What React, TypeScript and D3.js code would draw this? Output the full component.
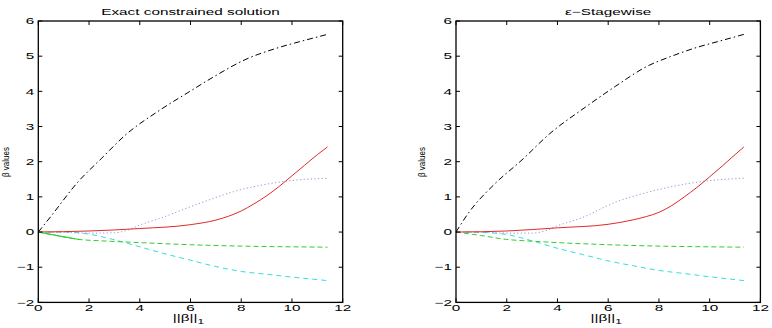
import React from 'react';
import * as d3 from 'd3';

// coefficient paths: [||beta||_1, beta]
const exactBlack = [[0, 0], [0.5, 0.45], [1.57, 1.43], [2.5, 2.1], [3.42, 2.75], [4.8, 3.47], [6, 4.01], [7, 4.45], [8.15, 4.9], [9.5, 5.25], [10.5, 5.45], [11.4, 5.62]];
const exactRed = [[0, 0], [2, 0.03], [4, 0.1], [6, 0.21], [7, 0.34], [7.5, 0.45], [8, 0.6], [8.5, 0.8], [9, 1.03], [9.5, 1.3], [10, 1.6], [10.5, 1.9], [11, 2.2], [11.4, 2.42]];
const exactBlue = [[0, 0], [1, -0.01], [2, -0.03], [3, -0.02], [3.5, 0.05], [4, 0.2], [4.8, 0.39], [6, 0.72], [7, 0.98], [7.7, 1.15], [8.7, 1.32], [9.8, 1.45], [11.4, 1.53]];
const exactGreen = [[0, 0], [0.8, -0.11], [1.6, -0.21], [2.5, -0.25], [4, -0.3], [6, -0.36], [8, -0.4], [10, -0.42], [11.4, -0.43]];
const exactCyan = [[0, 0], [1, 0], [1.6, -0.02], [2, -0.06], [3, -0.22], [4, -0.42], [5, -0.62], [6, -0.8], [7, -0.98], [8, -1.12], [9, -1.2], [10, -1.28], [11.4, -1.38]];

const stageBlack = [[0, 0], [0.5, 0.55], [1.5, 1.35], [2.6, 2.05], [3.7, 2.8], [5.1, 3.55], [6.3, 4.15], [7.5, 4.7], [8.5, 5.0], [9.5, 5.25], [10.5, 5.45], [11.35, 5.62]];
const stageRed = [[0, 0], [2, 0.03], [4, 0.12], [6, 0.22], [7, 0.35], [7.5, 0.44], [8, 0.56], [8.5, 0.75], [9, 1.0], [9.5, 1.27], [10, 1.57], [10.5, 1.88], [11, 2.2], [11.35, 2.42]];
const stageBlue = [[0, 0], [1, -0.01], [2, -0.03], [3, -0.03], [3.5, 0.03], [4, 0.18], [4.9, 0.39], [6.4, 0.88], [7.5, 1.12], [8.7, 1.32], [9.85, 1.45], [11.35, 1.53]];
const stageGreen = [[0, 0], [1, -0.1], [2, -0.21], [3, -0.26], [4, -0.3], [6, -0.36], [8, -0.4], [10, -0.42], [11.35, -0.43]];
const stageCyan = [[0, 0], [1, -0.01], [2, -0.07], [3, -0.25], [3.94, -0.45], [5, -0.64], [6, -0.82], [7, -0.96], [7.9, -1.08], [9, -1.18], [10, -1.27], [11.35, -1.38]];

const xTicks = [0, 2, 4, 6, 8, 10, 12];
const yTicks = [-2, -1, 0, 1, 2, 3, 4, 5, 6];

const FONT = '"Liberation Sans", Arial, sans-serif';
const SX = 1.7; // the figure's text is stretched sideways

const T = ({ x, y, anchor = 'middle', size = 9, sx = SX, rot = false, children }) => (
  <text
    transform={`translate(${x},${y}) scale(${sx},1)${rot ? ' rotate(-90)' : ''}`}
    textAnchor={anchor}
    fontSize={size}
    fontFamily={FONT}
    fill="#000"
  >
    {children}
  </text>
);

const Panel = ({ left, title, series, ylabX, soloGreen }) => {
  const x = d3.scaleLinear().domain([0, 12]).range([left, left + 304.4]);
  const y = d3.scaleLinear().domain([-2, 6]).range([302.4, 21]);
  const line = d3.line().x(d => x(d[0])).y(d => y(d[1])).curve(d3.curveMonotoneX);
  const [x0, x1] = x.range();
  const [y0, y1] = y.range();
  const tk = 4;

  return (
    <g>
      {series.map((s, i) => (
        <path key={i} d={line(s.data)} fill="none" stroke={s.color} strokeWidth={1} strokeDasharray={s.dash} />
      ))}
      {soloGreen && (
        <path d={line(soloGreen)} fill="none" stroke="#33cc33" strokeWidth={1.2} />
      )}
      <rect x={x0} y={y1} width={x1 - x0} height={y0 - y1} fill="none" stroke="#000" strokeWidth={1.3} />
      {xTicks.map(t => (
        <g key={'x' + t}>
          <line x1={x(t)} x2={x(t)} y1={y0} y2={y0 - tk} stroke="#000" />
          <line x1={x(t)} x2={x(t)} y1={y1} y2={y1 + tk} stroke="#000" />
          <T x={x(t)} y={311}>{t}</T>
        </g>
      ))}
      {yTicks.map(t => (
        <g key={'y' + t}>
          <line x1={x0} x2={x0 + tk} y1={y(t)} y2={y(t)} stroke="#000" />
          <line x1={x1} x2={x1 - tk} y1={y(t)} y2={y(t)} stroke="#000" />
          <T x={x0 - 4} y={y(t) + 3.2} anchor="end">{t < 0 ? '\u2212' + Math.abs(t) : t}</T>
        </g>
      ))}
      <T x={(x0 + x1) / 2} y={15}>{title}</T>
      <T x={(x0 + x1) / 2 - 2} y={321}>||β||<tspan fontSize={7} dy={3}>1</tspan></T>
      <T x={ylabX} y={162} size={8} sx={1.1} rot>β values</T>
    </g>
  );
};

const styles = {
  black: { color: '#000', dash: '6,3,1.5,3' },
  red: { color: '#e02a2a', dash: null },
  blue: { color: '#9494dc', dash: '1.2,2.4' },
  green: { color: '#33cc33', dash: '5,3' },
  cyan: { color: '#33dddd', dash: '5,4' },
};

export default function App() {
  const exact = [
    { data: exactCyan, ...styles.cyan },
    { data: exactGreen, ...styles.green },
    { data: exactBlue, ...styles.blue },
    { data: exactRed, ...styles.red },
    { data: exactBlack, ...styles.black },
  ];
  const stage = [
    { data: stageCyan, ...styles.cyan },
    { data: stageGreen, ...styles.green },
    { data: stageBlue, ...styles.blue },
    { data: stageRed, ...styles.red },
    { data: stageBlack, ...styles.black },
  ];
  return (
    <svg width={772} height={328} style={{ position: 'absolute', left: 0, top: 0, background: '#fff' }}>
      <Panel left={38.3} title="Exact constrained solution" series={exact} ylabX={9} soloGreen={exactGreen.slice(0, 3)} />
      <Panel left={456} title="ε−Stagewise" series={stage} ylabX={425} />
    </svg>
  );
}
